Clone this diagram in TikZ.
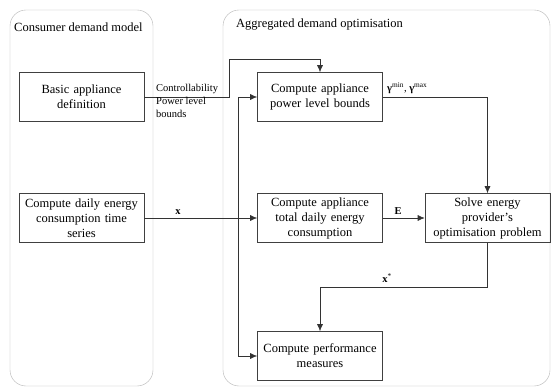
\documentclass[tikz,border=0pt]{standalone}
\usepackage{fontspec}
\setmainfont{Liberation Serif}
\usetikzlibrary{arrows.meta,positioning}
\tikzset{
  group/.style   = {draw=gray!60, thin, rounded corners=16pt},
  grouptitle/.style = {anchor=west, inner sep=1pt, font=\fontsize{12.5}{15}\selectfont},
  basic/.style   = {draw=black!75, line width=0.6pt, rectangle, align=center,
                    text width=119pt, minimum width=125pt, minimum height=49pt,
                    inner sep=2pt, font=\fontsize{12.5}{15}\selectfont},
  tag/.style     = {inner sep=1pt, font=\fontsize{10.5}{13}\selectfont},
  flow/.style    = {draw=black!80, line width=0.6pt}
}

\begin{document}
\begin{tikzpicture}[x=1pt, y=-1pt, >={Latex[length=7pt,width=6pt]}]
\useasboundingbox (0,0) rectangle (551,387);

% the two groups
\draw[group] (10,10) rectangle (153,386);
\draw[group] (223,10) rectangle (550,386);
\node[grouptitle] (g1) at (13,27) {Consumer demand model};
\node[grouptitle] (g2) at (235,25) {Aggregated demand optimisation};

% consumer demand model
\node[basic] (c1) at (81.5,97) {Basic appliance\\definition};
\node[basic] (c2) at (81.5,218) {Compute daily energy\\consumption time\\series};

% aggregated demand optimisation
\node[basic] (a1) at (320,97) {Compute appliance\\power level bounds};
\node[basic] (a2) at (320,218) {Compute appliance\\total daily energy\\consumption};
\node[basic] (a3) at (487.5,218) {Solve energy\\provider's\\optimisation problem};
\node[basic] (a4) at (320,356) {Compute performance\\measures};

% helper points
\coordinate (up) at (229,59);
\coordinate (bus) at (238,218);
\coordinate (down) at (487.5,287);

% connectors
\draw[flow,->] (c1.east) -| (up) -| (a1.north);
\draw[flow,->] (c2.east) -- (a2.west);
\draw[flow,->] (bus) |- (a1.west);
\draw[flow,->] (bus) |- (a4.west);
\draw[flow,->] (a1.east) -| (a3.north);
\draw[flow,->] (a2.east) -- (a3.west);
\draw[flow,->] (a3.south) -- (down) -| (a4.north);

% labels
\node[tag, anchor=north west, align=left] (l1) at (155,83) {Controllability\\Power level\\bounds};
\node[tag, anchor=south] (l2) at (178,216) {\textbf{x}};
\node[tag, anchor=south west] (l3) at (386,95) {\textbf{γ}\textsuperscript{min}, \textbf{γ}\textsuperscript{max}};
\node[tag, anchor=south] (l4) at (398,216) {\textbf{E}};
\node[tag, anchor=south] (l5) at (387,284) {\textbf{x}\textsuperscript{*}};

\end{tikzpicture}
\end{document}
